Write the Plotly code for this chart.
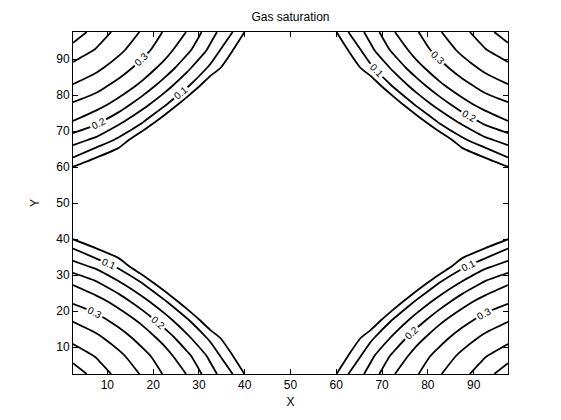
import plotly.graph_objs as go

# cell centres of the 20 x 20 grid
x = [2.5, 7.5, 12.5, 17.5, 22.5, 27.5, 32.5, 37.5, 42.5, 47.5,
     52.5, 57.5, 62.5, 67.5, 72.5, 77.5, 82.5, 87.5, 92.5, 97.5]
y = [2.5, 7.5, 12.5, 17.5, 22.5, 27.5, 32.5, 37.5, 42.5, 47.5,
     52.5, 57.5, 62.5, 67.5, 72.5, 77.5, 82.5, 87.5, 92.5, 97.5]

# gas saturation in one corner quadrant (rows = y, cols = x)
corner = [
    [0.480, 0.430, 0.385, 0.346, 0.295, 0.247, 0.171, 0.098, 0.0, 0.0],
    [0.430, 0.397, 0.362, 0.318, 0.272, 0.212, 0.138, 0.049, 0.0, 0.0],
    [0.385, 0.362, 0.325, 0.282, 0.232, 0.161, 0.089, 0.0, 0.0, 0.0],
    [0.346, 0.318, 0.282, 0.238, 0.172, 0.107, 0.0, 0.0, 0.0, 0.0],
    [0.295, 0.272, 0.232, 0.172, 0.112, 0.010, 0.0, 0.0, 0.0, 0.0],
    [0.247, 0.212, 0.161, 0.107, 0.010, 0.0, 0.0, 0.0, 0.0, 0.0],
    [0.171, 0.138, 0.089, 0.0, 0.0, 0.0, 0.0, 0.0, 0.0, 0.0],
    [0.098, 0.049, 0.0, 0.0, 0.0, 0.0, 0.0, 0.0, 0.0, 0.0],
    [0.0, 0.0, 0.0, 0.0, 0.0, 0.0, 0.0, 0.0, 0.0, 0.0],
    [0.0, 0.0, 0.0, 0.0, 0.0, 0.0, 0.0, 0.0, 0.0, 0.0],
]

tick_vals = [10, 20, 30, 40, 50, 60, 70, 80, 90]


def mirror(q):
    rows = [r + r[::-1] for r in q]
    return rows + rows[::-1]


z = mirror(corner)
font = 'Liberation Sans, Arial, sans-serif'
black = [[0, 'black'], [1, 'black']]

plain = go.Contour(x=x, y=y, z=z, colorscale=black, showscale=False, hoverinfo='skip',
                   line=dict(width=1.8, smoothing=0.6),
                   contours=dict(start=0.05, end=0.45, size=0.1, coloring='lines', showlabels=False))
labelled = go.Contour(x=x, y=y, z=z, colorscale=black, showscale=False, hoverinfo='skip',
                      line=dict(width=1.8, smoothing=0.6),
                      contours=dict(start=0.1, end=0.4, size=0.1, coloring='lines', showlabels=True,
                                    labelformat='.1f', labelfont=dict(family=font, size=10, color='black')))

axis = dict(range=[2.5, 97.5], tickvals=tick_vals, ticks='inside', ticklen=5, tickcolor='black',
            showline=True, linecolor='black', linewidth=1, mirror='ticks', showgrid=False,
            zeroline=False, tickfont=dict(family=font, size=12, color='black'))

# the page body adds 8px on the left and top, so the margins make up for it
fig = go.Figure(data=[plain, labelled])
fig.update_layout(
    width=561, height=420, paper_bgcolor='white', plot_bgcolor='white',
    margin=dict(l=65, r=61, t=24, b=54), showlegend=False,
    font=dict(family=font, size=12, color='black'),
    title=dict(text='Gas saturation', x=0.5, xref='paper', y=1 - 9 / 420, yref='container',
               yanchor='middle', font=dict(family=font, size=12, color='black')),
    xaxis=dict(axis, title=dict(text='X', standoff=6, font=dict(family=font, size=12))),
    yaxis=dict(axis, title=dict(text='Y', standoff=14, font=dict(family=font, size=12))),
)
fig.write_html('out.html')
